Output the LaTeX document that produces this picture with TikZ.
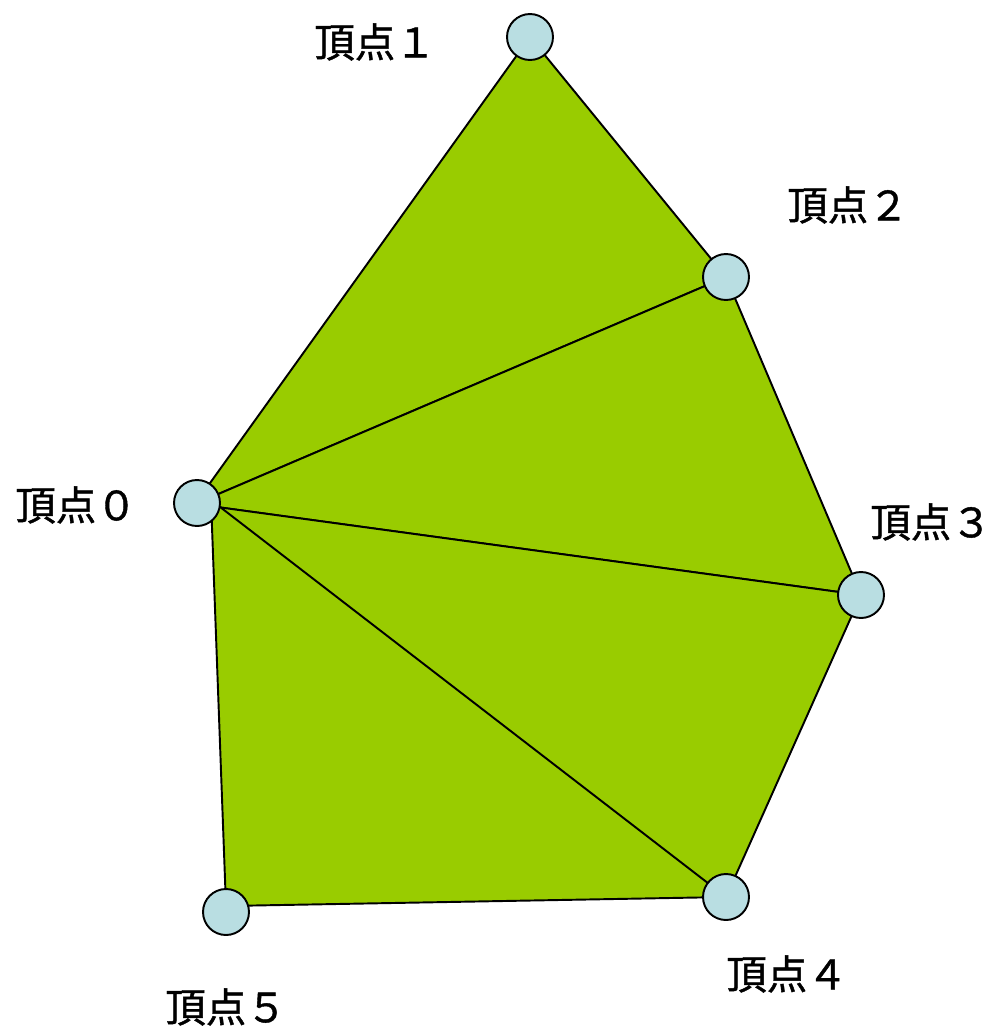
\documentclass[tikz,border=0pt]{standalone}
\usepackage{fontspec}
\setmainfont[FakeBold=1]{Noto Sans CJK JP}
\usepackage{xcolor}
\definecolor{fanGreen}{HTML}{99CC00}
\definecolor{vertexBlue}{HTML}{B9DEE2}

\begin{document}
\begin{tikzpicture}[
    x=0.02cm, y=-0.02cm,
    every node/.style={font=\fontsize{23pt}{26pt}\selectfont},
    vertice/.style={
        circle,
        draw,
        line width=1.1pt,
        fill=vertexBlue,
        minimum size=0.92cm,
        inner sep=0pt
    },
    rotulo/.style={
        inner sep=0pt
    },
    tri/.style={
        draw,
        line width=1.1pt,
        fill=fanGreen,
        line join=round
    }
]
\useasboundingbox (0,0) rectangle (998,1029);

% vertices
\coordinate (p0) at (195,504);
\coordinate (p0b) at (211,500);
\coordinate (p1) at (530,37);
\coordinate (p2) at (726,277);
\coordinate (p3) at (861,595);
\coordinate (p4) at (726,897);
\coordinate (p5) at (226,906);

% triangles of the fan
\draw[tri] (p0) -- (p1) -- (p2) -- cycle;
\draw[tri] (p0) -- (p2) -- (p3) -- cycle;
\draw[tri] (p0) -- (p3) -- (p4) -- cycle;
\draw[tri] (p0b) -- (p4) -- (p5) -- cycle;

\node[vertice] (v0) at (197,503) {};
\node[vertice] (v1) at (p1) {};
\node[vertice] (v2) at (p2) {};
\node[vertice] (v3) at (p3) {};
\node[vertice] (v4) at (p4) {};
\node[vertice] (v5) at (226,912) {};

% labels
\node[rotulo] (l0) at (76,505) {頂点０};
\node[rotulo] (l1) at (375,42) {頂点１};
\node[rotulo] (l2) at (848,205) {頂点２};
\node[rotulo] (l3) at (931,522) {頂点３};
\node[rotulo] (l4) at (787,974) {頂点４};
\node[rotulo] (l5) at (226,1007) {頂点５};

\end{tikzpicture}
\end{document}
